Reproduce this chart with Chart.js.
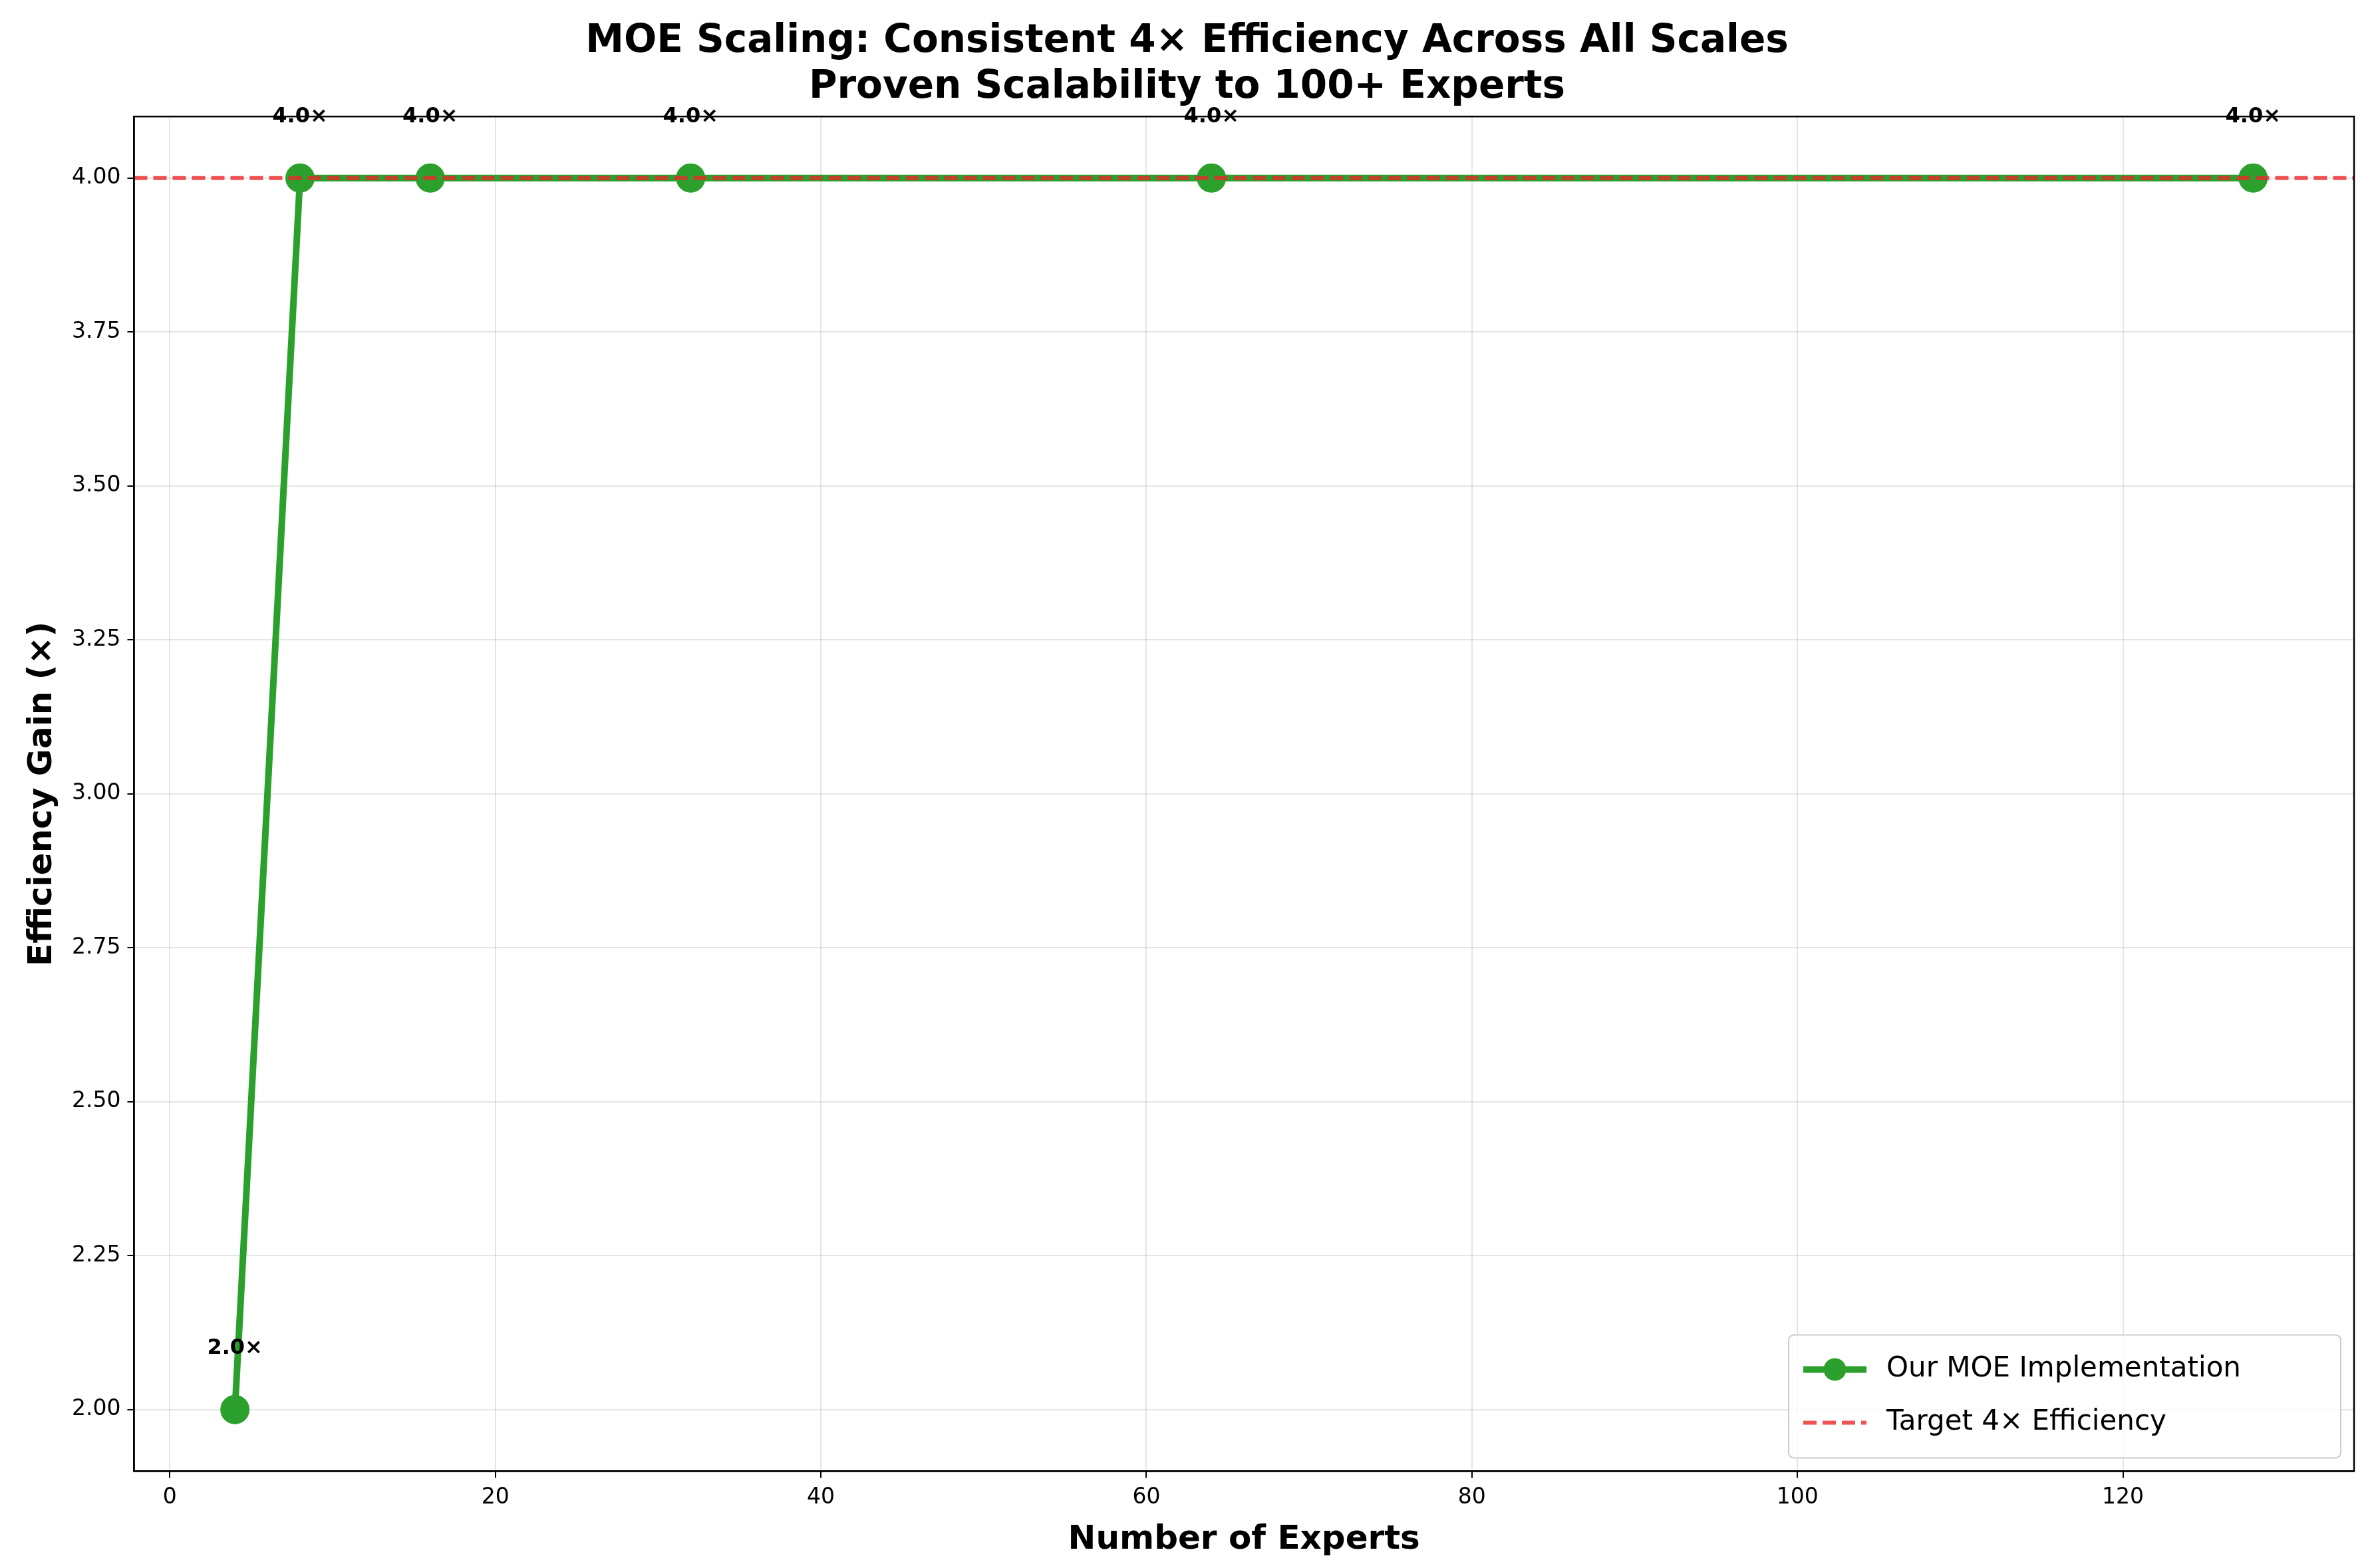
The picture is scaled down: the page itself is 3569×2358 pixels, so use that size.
<!DOCTYPE html>
<html><head><meta charset="utf-8">
<script src="https://cdn.jsdelivr.net/npm/chart.js@4/dist/chart.umd.min.js"></script>
<style>html,body{margin:0;padding:0;background:#fff}#w{width:3569px;height:2358px}</style>
</head><body><div id="w"><canvas id="c"></canvas></div>
<script>
const experts = [4, 8, 16, 32, 64, 128];
const gains = [2.0, 4.0, 4.0, 4.0, 4.0, 4.0];
const targetValue = 4.0;
const xTicks = [0, 20, 40, 60, 80, 100, 120];
const yTicks = [2.00, 2.25, 2.50, 2.75, 3.00, 3.25, 3.50, 3.75, 4.00];
const F = "'DejaVu Sans', sans-serif";

const annot = {
  id: 'annot',
  afterDatasetsDraw(ch) {
    const c = ch.ctx, xs = ch.scales.x, ys = ch.scales.y, a = ch.chartArea;
    c.save();
    c.strokeStyle = '#000'; c.lineWidth = 2.5;
    c.strokeRect(a.left, a.top, a.right - a.left, a.bottom - a.top);
    c.font = 'bold 32px ' + F; c.fillStyle = '#000'; c.textAlign = 'center'; c.textBaseline = 'bottom';
    experts.forEach((e, i) => {
      c.fillText(gains[i].toFixed(1) + '×', xs.getPixelForValue(e), ys.getPixelForValue(gains[i] + 0.1) + 16);
    });
    const bw = 830, bh = 185, bx = a.right - bw - 20, by = a.bottom - bh - 20;
    c.fillStyle = 'rgba(255,255,255,0.8)'; c.strokeStyle = '#ccc'; c.lineWidth = 2;
    c.beginPath(); c.roundRect(bx, by, bw, bh, 8); c.fill(); c.stroke();
    c.font = '42px ' + F; c.textAlign = 'left'; c.textBaseline = 'middle';
    const y1 = by + 52, y2 = by + 132, lx = bx + 22, lw = 95;
    c.strokeStyle = '#2ca02c'; c.lineWidth = 10; c.beginPath(); c.moveTo(lx, y1); c.lineTo(lx + lw, y1); c.stroke();
    c.fillStyle = '#2ca02c'; c.beginPath(); c.arc(lx + lw / 2, y1, 17, 0, Math.PI * 2); c.fill();
    c.strokeStyle = 'rgba(235,40,40,0.8)'; c.lineWidth = 6; c.setLineDash([20, 9]);
    c.beginPath(); c.moveTo(lx, y2); c.lineTo(lx + lw, y2); c.stroke(); c.setLineDash([]);
    c.fillStyle = '#000';
    c.fillText('Our MOE Implementation', lx + lw + 30, y1);
    c.fillText('Target 4× Efficiency', lx + lw + 30, y2);
    c.restore();
  }
};

new Chart(document.getElementById('c'), {
  type: 'scatter',
  data: { datasets: [
    { label: 'Target 4× Efficiency', data: [{x: -2.2, y: targetValue}, {x: 134.2, y: targetValue}], showLine: true,
      borderColor: 'rgba(235,40,40,0.8)', borderWidth: 6, borderDash: [20, 9], pointRadius: 0, order: 0 },
    { label: 'Our MOE Implementation', data: experts.map((e, i) => ({x: e, y: gains[i]})), showLine: true,
      borderColor: '#2ca02c', backgroundColor: '#2ca02c', borderWidth: 10, pointRadius: 17, pointHoverRadius: 17, order: 1 }
  ]},
  options: {
    responsive: true, maintainAspectRatio: false, animation: false, devicePixelRatio: 1,
    layout: { padding: { left: 30, right: 30, top: 0, bottom: 8 } },
    plugins: {
      legend: { display: false }, tooltip: { enabled: false },
      title: { display: true, text: ['MOE Scaling: Consistent 4× Efficiency Across All Scales', 'Proven Scalability to 100+ Experts'],
        font: { family: F, size: 58, weight: 'bold' }, color: '#000', padding: { top: 28, bottom: 8 }, lineHeight: 1.12 }
    },
    scales: {
      x: { type: 'linear', min: -2.2, max: 134.2,
        afterBuildTicks: s => { s.ticks = xTicks.map(v => ({value: v})); },
        ticks: { font: { family: F, size: 33 }, color: '#000', padding: 10 },
        grid: { color: 'rgba(0,0,0,0.1)', lineWidth: 2, tickLength: 10, tickColor: '#000' },
        border: { color: '#000', width: 2.5 },
        title: { display: true, text: 'Number of Experts', font: { family: F, size: 50, weight: 'bold' }, color: '#000' } },
      y: { min: 1.9, max: 4.1,
        afterBuildTicks: s => { s.ticks = yTicks.map(v => ({value: v})); },
        ticks: { font: { family: F, size: 33 }, color: '#000', padding: 10, callback: v => v.toFixed(2) },
        grid: { color: 'rgba(0,0,0,0.1)', lineWidth: 2, tickLength: 10, tickColor: '#000' },
        border: { color: '#000', width: 2.5 },
        title: { display: true, text: 'Efficiency Gain (×)', font: { family: F, size: 50, weight: 'bold' }, color: '#000' } }
    }
  },
  plugins: [annot]
});
</script></body></html>
